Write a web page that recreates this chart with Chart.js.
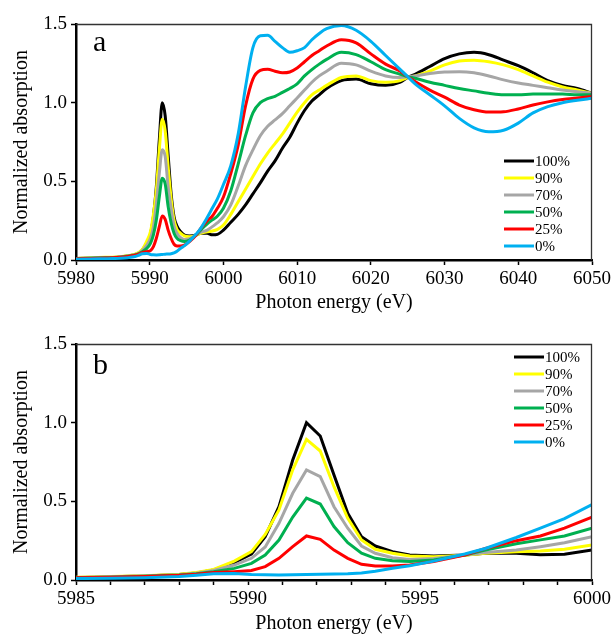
<!DOCTYPE html>
<html><head><meta charset="utf-8">
<script src="https://cdn.jsdelivr.net/npm/chart.js@4.4.1/dist/chart.umd.min.js"></script>
<style>
html,body{margin:0;padding:0;background:#fff;}
#wrap{position:relative;width:614px;height:636px;background:#fff;}
canvas{position:absolute;left:0;}
</style></head><body>
<div id="wrap">
<canvas id="c1" width="614" height="318" style="top:0"></canvas>
<canvas id="c2" width="614" height="318" style="top:318px"></canvas>
</div>
<script>
const energy = [5980, 5982, 5984, 5985, 5986, 5987, 5988, 5988.5, 5989, 5989.6, 5990.1, 5990.5, 5990.9, 5991.3, 5991.7, 5992.1, 5992.5, 5992.9, 5993.3, 5993.7, 5994.2, 5994.7, 5995.4, 5996.3, 5996.9, 5997.8, 5998.5, 5999.2, 6000, 6001, 6002, 6003, 6004, 6005, 6006, 6007, 6008, 6009, 6010, 6011, 6012, 6013, 6014, 6016, 6018, 6020, 6022, 6024, 6025, 6026, 6028, 6030, 6032, 6034, 6036, 6038, 6040, 6042, 6044, 6046, 6048, 6050];

const s100 = [0.010, 0.012, 0.014, 0.015, 0.020, 0.025, 0.035, 0.045, 0.064, 0.110, 0.165, 0.275, 0.466, 0.763, 1.000, 0.915, 0.667, 0.424, 0.275, 0.216, 0.180, 0.159, 0.153, 0.159, 0.170, 0.170, 0.160, 0.163, 0.190, 0.240, 0.290, 0.350, 0.420, 0.490, 0.565, 0.630, 0.710, 0.780, 0.870, 0.950, 1.010, 1.050, 1.090, 1.140, 1.150, 1.120, 1.110, 1.130, 1.160, 1.180, 1.230, 1.280, 1.310, 1.320, 1.305, 1.270, 1.235, 1.190, 1.140, 1.110, 1.090, 1.060];
const s90 = [0.010, 0.014, 0.017, 0.018, 0.022, 0.027, 0.037, 0.048, 0.067, 0.120, 0.180, 0.290, 0.445, 0.700, 0.894, 0.820, 0.593, 0.392, 0.254, 0.195, 0.170, 0.153, 0.148, 0.157, 0.170, 0.180, 0.184, 0.195, 0.222, 0.290, 0.370, 0.450, 0.530, 0.610, 0.680, 0.740, 0.800, 0.870, 0.940, 1.000, 1.050, 1.080, 1.110, 1.160, 1.170, 1.140, 1.130, 1.140, 1.160, 1.170, 1.200, 1.240, 1.265, 1.270, 1.260, 1.240, 1.210, 1.170, 1.130, 1.100, 1.080, 1.060];
const s70 = [0.008, 0.012, 0.015, 0.016, 0.020, 0.026, 0.034, 0.043, 0.060, 0.095, 0.138, 0.210, 0.360, 0.551, 0.700, 0.657, 0.466, 0.329, 0.216, 0.170, 0.142, 0.131, 0.136, 0.159, 0.175, 0.190, 0.212, 0.237, 0.275, 0.350, 0.470, 0.600, 0.700, 0.790, 0.850, 0.890, 0.930, 0.980, 1.030, 1.080, 1.130, 1.170, 1.200, 1.250, 1.240, 1.200, 1.170, 1.160, 1.165, 1.170, 1.185, 1.195, 1.197, 1.190, 1.170, 1.145, 1.125, 1.110, 1.095, 1.080, 1.070, 1.060];
const s50 = [0.008, 0.011, 0.014, 0.015, 0.018, 0.024, 0.032, 0.040, 0.053, 0.074, 0.106, 0.159, 0.254, 0.400, 0.520, 0.483, 0.340, 0.237, 0.170, 0.138, 0.123, 0.117, 0.127, 0.159, 0.190, 0.230, 0.255, 0.280, 0.329, 0.440, 0.610, 0.790, 0.935, 1.000, 1.025, 1.040, 1.065, 1.090, 1.120, 1.170, 1.210, 1.245, 1.275, 1.320, 1.305, 1.260, 1.210, 1.180, 1.165, 1.155, 1.130, 1.110, 1.090, 1.075, 1.060, 1.050, 1.050, 1.055, 1.055, 1.055, 1.050, 1.050];
const s25 = [0.008, 0.010, 0.013, 0.014, 0.017, 0.022, 0.030, 0.037, 0.047, 0.053, 0.060, 0.085, 0.138, 0.212, 0.280, 0.258, 0.190, 0.138, 0.100, 0.089, 0.089, 0.095, 0.117, 0.159, 0.200, 0.250, 0.280, 0.330, 0.400, 0.550, 0.730, 0.980, 1.150, 1.205, 1.212, 1.200, 1.190, 1.195, 1.220, 1.260, 1.300, 1.330, 1.360, 1.400, 1.380, 1.310, 1.245, 1.200, 1.165, 1.135, 1.080, 1.035, 0.985, 0.955, 0.940, 0.942, 0.960, 0.985, 1.005, 1.020, 1.030, 1.040];
const s0 = [0.005, 0.006, 0.008, 0.009, 0.011, 0.015, 0.022, 0.030, 0.040, 0.042, 0.035, 0.033, 0.032, 0.033, 0.035, 0.037, 0.038, 0.040, 0.045, 0.055, 0.075, 0.090, 0.120, 0.165, 0.200, 0.270, 0.330, 0.390, 0.480, 0.600, 0.800, 1.100, 1.350, 1.425, 1.428, 1.390, 1.350, 1.320, 1.330, 1.350, 1.400, 1.440, 1.470, 1.490, 1.460, 1.390, 1.300, 1.210, 1.165, 1.120, 1.050, 0.980, 0.900, 0.840, 0.815, 0.825, 0.870, 0.935, 0.975, 1.000, 1.015, 1.028];

const seriesLabels = ['100%', '90%', '70%', '50%', '25%', '0%'];
const seriesColors = ['#000000', '#FFFF00', '#A6A6A6', '#00B050', '#FF0000', '#00B0F0'];
const seriesValues = [s100, s90, s70, s50, s25, s0];
const yTicks = [0, 0.5, 1.0, 1.5];

const FONT = "'Liberation Serif', 'Times New Roman', serif";

function makeDatasets(smooth) {
  return seriesLabels.map((lab, k) => ({
    label: lab,
    data: energy.map((e, i) => ({x: e, y: seriesValues[k][i]})),
    borderColor: seriesColors[k],
    backgroundColor: seriesColors[k],
    borderWidth: 3,
    pointRadius: 0,
    pointHoverRadius: 0,
    fill: false,
    cubicInterpolationMode: smooth ? 'monotone' : 'default',
    tension: 0,
    order: 5 - k,
    clip: 0
  }));
}

const decor = {
  id: 'decor',
  afterDatasetsDraw(chart, args, o) {
    const {ctx, chartArea: a} = chart;
    ctx.save();
    ctx.strokeStyle = '#333';
    ctx.lineWidth = 1.3;
    ctx.beginPath();
    ctx.moveTo(a.left, a.top + 0.5);
    ctx.lineTo(a.right - 0.5, a.top + 0.5);
    ctx.lineTo(a.right - 0.5, a.bottom);
    ctx.stroke();
    ctx.fillStyle = '#000';
    ctx.font = o.panelSize + 'px ' + FONT;
    ctx.textAlign = 'left';
    ctx.textBaseline = 'alphabetic';
    ctx.fillText(o.panel, a.left + o.panelDx, a.top + o.panelDy);
    ctx.font = '15px ' + FONT;
    ctx.textBaseline = 'middle';
    seriesLabels.forEach((lab, k) => {
      const x = a.left + o.legX;
      const y = a.top + o.legY + k * o.legStep;
      ctx.strokeStyle = seriesColors[k];
      ctx.lineWidth = 3;
      ctx.beginPath();
      ctx.moveTo(x, y);
      ctx.lineTo(x + 30, y);
      ctx.stroke();
      ctx.fillText(lab, x + 31, y + 1);
    });
    ctx.restore();
  }
};

function makeChart(id, cfg) {
  return new Chart(document.getElementById(id), {
    type: 'line',
    data: {datasets: makeDatasets(cfg.smooth)},
    options: {
      responsive: false,
      animation: false,
      devicePixelRatio: 1,
      layout: {padding: {top: cfg.padTop, right: 21, left: 0, bottom: 0}},
      plugins: {legend: {display: false}, tooltip: {enabled: false}, decor: cfg.decor},
      scales: {
        x: {
          type: 'linear', min: cfg.xmin, max: cfg.xmax,
          afterFit: s => { s.height = cfg.xH; },
          afterBuildTicks: s => { s.ticks = cfg.xTicks.map(v => ({value: v})); },
          ticks: {
            autoSkip: false, maxRotation: 0, padding: 3, color: '#000',
            font: {family: FONT, size: 19},
            callback: v => (cfg.xLabelEvery ? (Math.round(v) % cfg.xLabelEvery === 0 ? String(Math.round(v)) : '') : String(Math.round(v)))
          },
          grid: {drawOnChartArea: false, drawTicks: true, tickLength: 5, tickColor: '#000', tickWidth: 1.5},
          border: {display: true, color: '#000', width: 2.5},
          title: {display: true, text: 'Photon energy (eV)', color: '#000', font: {family: FONT, size: 20}, padding: {top: 0, bottom: cfg.titlePadB}}
        },
        y: {
          min: 0, max: 1.5,
          afterFit: s => { s.width = 76; },
          afterBuildTicks: s => { s.ticks = yTicks.map(v => ({value: v})); },
          ticks: {padding: 4, color: '#000', font: {family: FONT, size: 19}, callback: v => Number(v).toFixed(1)},
          grid: {drawOnChartArea: false, drawTicks: true, tickLength: 5, tickColor: '#000', tickWidth: 1.5},
          border: {display: true, color: '#000', width: 2.5},
          title: {display: true, text: 'Normalized absorption', color: '#000', font: {family: FONT, size: 20}, padding: {top: 10, bottom: 0}}
        }
      }
    },
    plugins: [decor]
  });
}

const topTicks = [5980, 5990, 6000, 6010, 6020, 6030, 6040, 6050];
const bottomTicks = [];
for (let v = 5985; v <= 6000; v++) bottomTicks.push(v);

makeChart('c1', {
  smooth: true, xmin: 5980, xmax: 6050, xTicks: topTicks, xLabelEvery: 0,
  padTop: 24, xH: 58, titlePadB: 3,
  decor: {panel: 'a', panelSize: 30, panelDx: 17, panelDy: 27, legX: 428, legY: 137, legStep: 17}
});
makeChart('c2', {
  smooth: false, xmin: 5985, xmax: 6000, xTicks: bottomTicks, xLabelEvery: 5,
  padTop: 26, xH: 56, titlePadB: 0,
  decor: {panel: 'b', panelSize: 30, panelDx: 17, panelDy: 30, legX: 438, legY: 13, legStep: 17}
});
</script>
</body></html>
